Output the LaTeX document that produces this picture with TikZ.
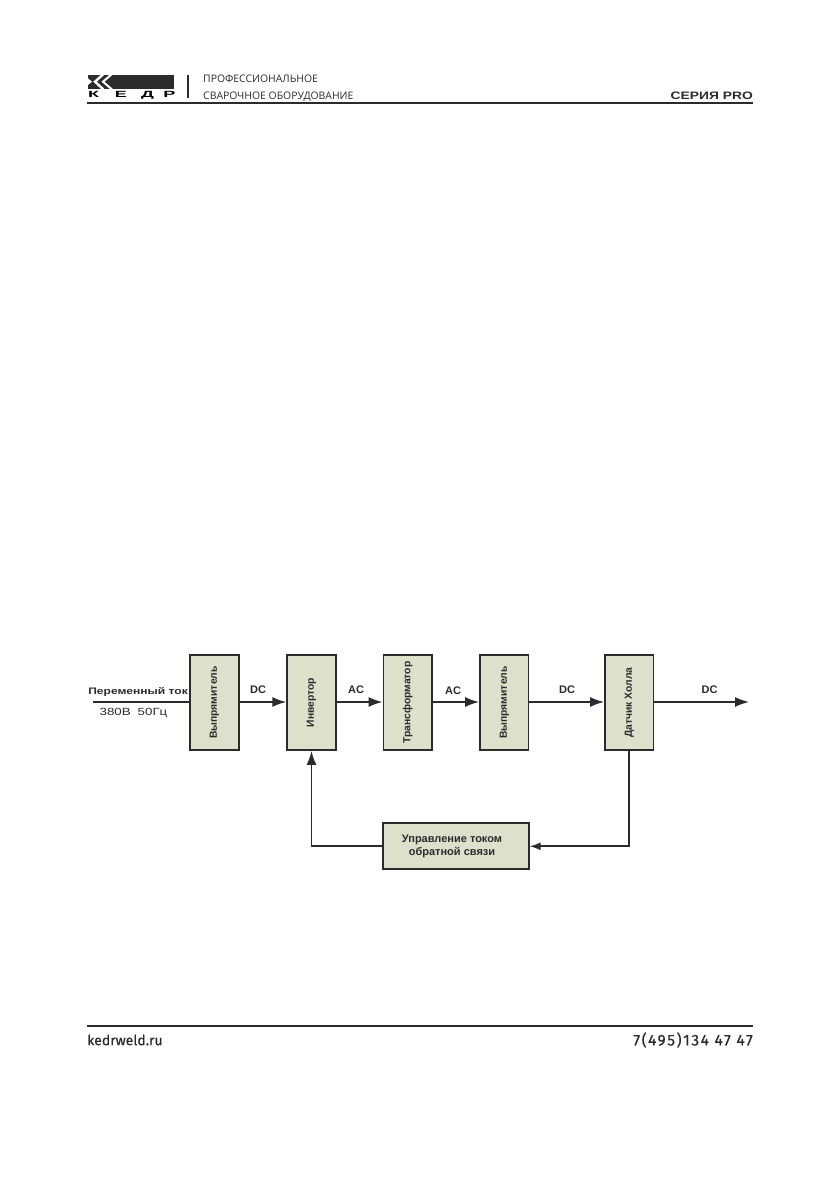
\documentclass[tikz,border=0pt]{standalone}
\usepackage{fontspec}
\setmainfont{Liberation Sans}
\newfontfamily\headfont{Open Sans}
\newfontfamily\sitefont[FakeBold=0.6]{Fira Sans}
\newfontfamily\phonefont[FakeBold=0.4,LetterSpace=10]{Fira Sans}
\newfontfamily\widefont[FakeStretch=1.28]{Liberation Sans}
\newfontfamily\logofont[FakeStretch=2]{Liberation Sans}
\usepackage{tikz}
\usetikzlibrary{arrows.meta}
\definecolor{boxfill}{HTML}{DDE0CB}
\definecolor{inkdark}{HTML}{2B2B2B}
\tikzset{
	block/.style={draw=inkdark,line width=1.8pt,fill=boxfill,inner sep=0pt,text=inkdark},
	blocklabel/.style={rotate=90,font=\bfseries\fontsize{10.3}{12}\selectfont,text=inkdark,inner sep=0pt},
	signal/.style={font=\bfseries\fontsize{11}{12}\selectfont,text=inkdark,inner sep=0pt},
	flow/.style={draw=inkdark,line width=1.7pt,-{Latex[length=14pt,width=10pt]}},
	flowsmall/.style={draw=inkdark,line width=1.7pt,-{Latex[length=11pt,width=8pt]}},
	plainline/.style={draw=inkdark,line width=1.7pt},
	headtext/.style={font=\headfont\fontsize{10.4}{12}\selectfont,text=inkdark,inner sep=0pt,anchor=base west},
	logoletter/.style={font=\logofont\bfseries\fontsize{9}{10}\selectfont,text=black,inner sep=0pt,anchor=base}
}
\begin{document}
\begin{tikzpicture}[x=1pt,y=-1pt]
	\useasboundingbox (0,0) rectangle (839,1191);
	\begin{scope}
		\clip (88,75) rectangle (174,88.5);
		\fill[inkdark] (88,75) rectangle (174,88.5);
		\draw[white,line width=2.4pt] (103.5,74) -- (95,81.7) -- (103.5,89.5);
		\draw[white,line width=2pt] (112,74) -- (103,81.7) -- (112,89.5);
		\fill[white] (88,78.3) -- (92,81.7) -- (88,85) -- cycle;
	\end{scope}
	\node [logoletter] (logok) at (93.5,97.4) {К};
	\node [logoletter] (logoe) at (121,97.4) {Е};
	\node [logoletter] (logod) at (147.5,97.4) {Д};
	\node [logoletter] (logor) at (169.5,97.4) {Р};
	\draw[inkdark,line width=1.2pt] (188,75) -- (188,98);
	\node [headtext] (headone) at (203,82.5) {ПРОФЕССИОНАЛЬНОЕ};
	\node [headtext] (headtwo) at (203,99) {СВАРОЧНОЕ ОБОРУДОВАНИЕ};
	\node [font=\widefont\bfseries\fontsize{10.8}{12}\selectfont,text=inkdark,inner sep=0pt,anchor=east] (series) at (753,95.7) {СЕРИЯ PRO};
	\draw[inkdark,line width=2.2pt] (87,103) -- (753,103);
	\draw[inkdark,line width=2.4pt] (87,1025.7) -- (753,1025.7);
	\node [font=\sitefont\fontsize{14}{16}\selectfont,text=inkdark,inner sep=0pt,anchor=west] (site) at (87,1040) {kedrweld.ru};
	\node [font=\phonefont\fontsize{15.5}{16}\selectfont,text=inkdark,inner sep=0pt,anchor=east] (phone) at (753,1040) {7(495)134 47 47};

	\node [block,minimum width=48.5pt,minimum height=95pt] (rectone) at (214.5,702.5) {};
	\node [block,minimum width=48.5pt,minimum height=95pt] (inverter) at (311.5,702.5) {};
	\node [block,minimum width=48.5pt,minimum height=95pt] (transformer) at (407.7,702.5) {};
	\node [block,minimum width=48.5pt,minimum height=95pt] (recttwo) at (504.3,702.5) {};
	\node [block,minimum width=48.5pt,minimum height=95pt] (hall) at (629.3,702.5) {};
	\node [block,minimum width=145.4pt,minimum height=46pt] (feedback) at (456,846.3) {};
	\node [blocklabel] at (rectone) {Выпрямитель};
	\node [blocklabel] at (inverter) {Инвертор};
	\node [blocklabel] at (transformer) {Трансформатор};
	\node [blocklabel] at (recttwo) {Выпрямитель};
	\node [blocklabel] at (hall) {Датчик Холла};
	\node [align=center,inner sep=0pt,text=inkdark,font=\bfseries\fontsize{11}{12.7}\selectfont] at (452,846.5) {Управление током\\обратной связи};

	\coordinate (input) at (93,702);
	\coordinate (output) at (749,702);
	\coordinate (hallcorner) at (hall.south |- feedback.east);
	\coordinate (invcorner) at (inverter.south |- feedback.west);

	\draw[plainline] (input) -- (rectone.west |- input);
	\draw[flow] (rectone.east |- input) -- (inverter.west |- input);
	\draw[flow] (inverter.east |- input) -- (transformer.west |- input);
	\draw[flow] (transformer.east |- input) -- (recttwo.west |- input);
	\draw[flow] (recttwo.east |- input) -- (hall.west |- input);
	\draw[flow] (hall.east |- input) -- (output);
	\draw[flowsmall] (hall.south) -- (hallcorner) -- (feedback.east);
	\draw[flow] (feedback.west) -- (invcorner) -- (inverter.south);

	\node [font=\widefont\bfseries\fontsize{9.4}{12}\selectfont,text=inkdark,inner sep=0pt,anchor=east] (mains) at (188,692) {Переменный ток};
	\node [font=\widefont\fontsize{10.4}{12}\selectfont,text=inkdark,inner sep=0pt] (volts) at (133.5,713) {380В\hspace{7pt}50Гц};
	\node [signal] (dcone) at (258,690) {DC};
	\node [signal] (acone) at (356,690) {AC};
	\node [signal] (actwo) at (453,691) {AC};
	\node [signal] (dctwo) at (567,690) {DC};
	\node [signal] (dcthree) at (709.5,690) {DC};
\end{tikzpicture}
\end{document}
